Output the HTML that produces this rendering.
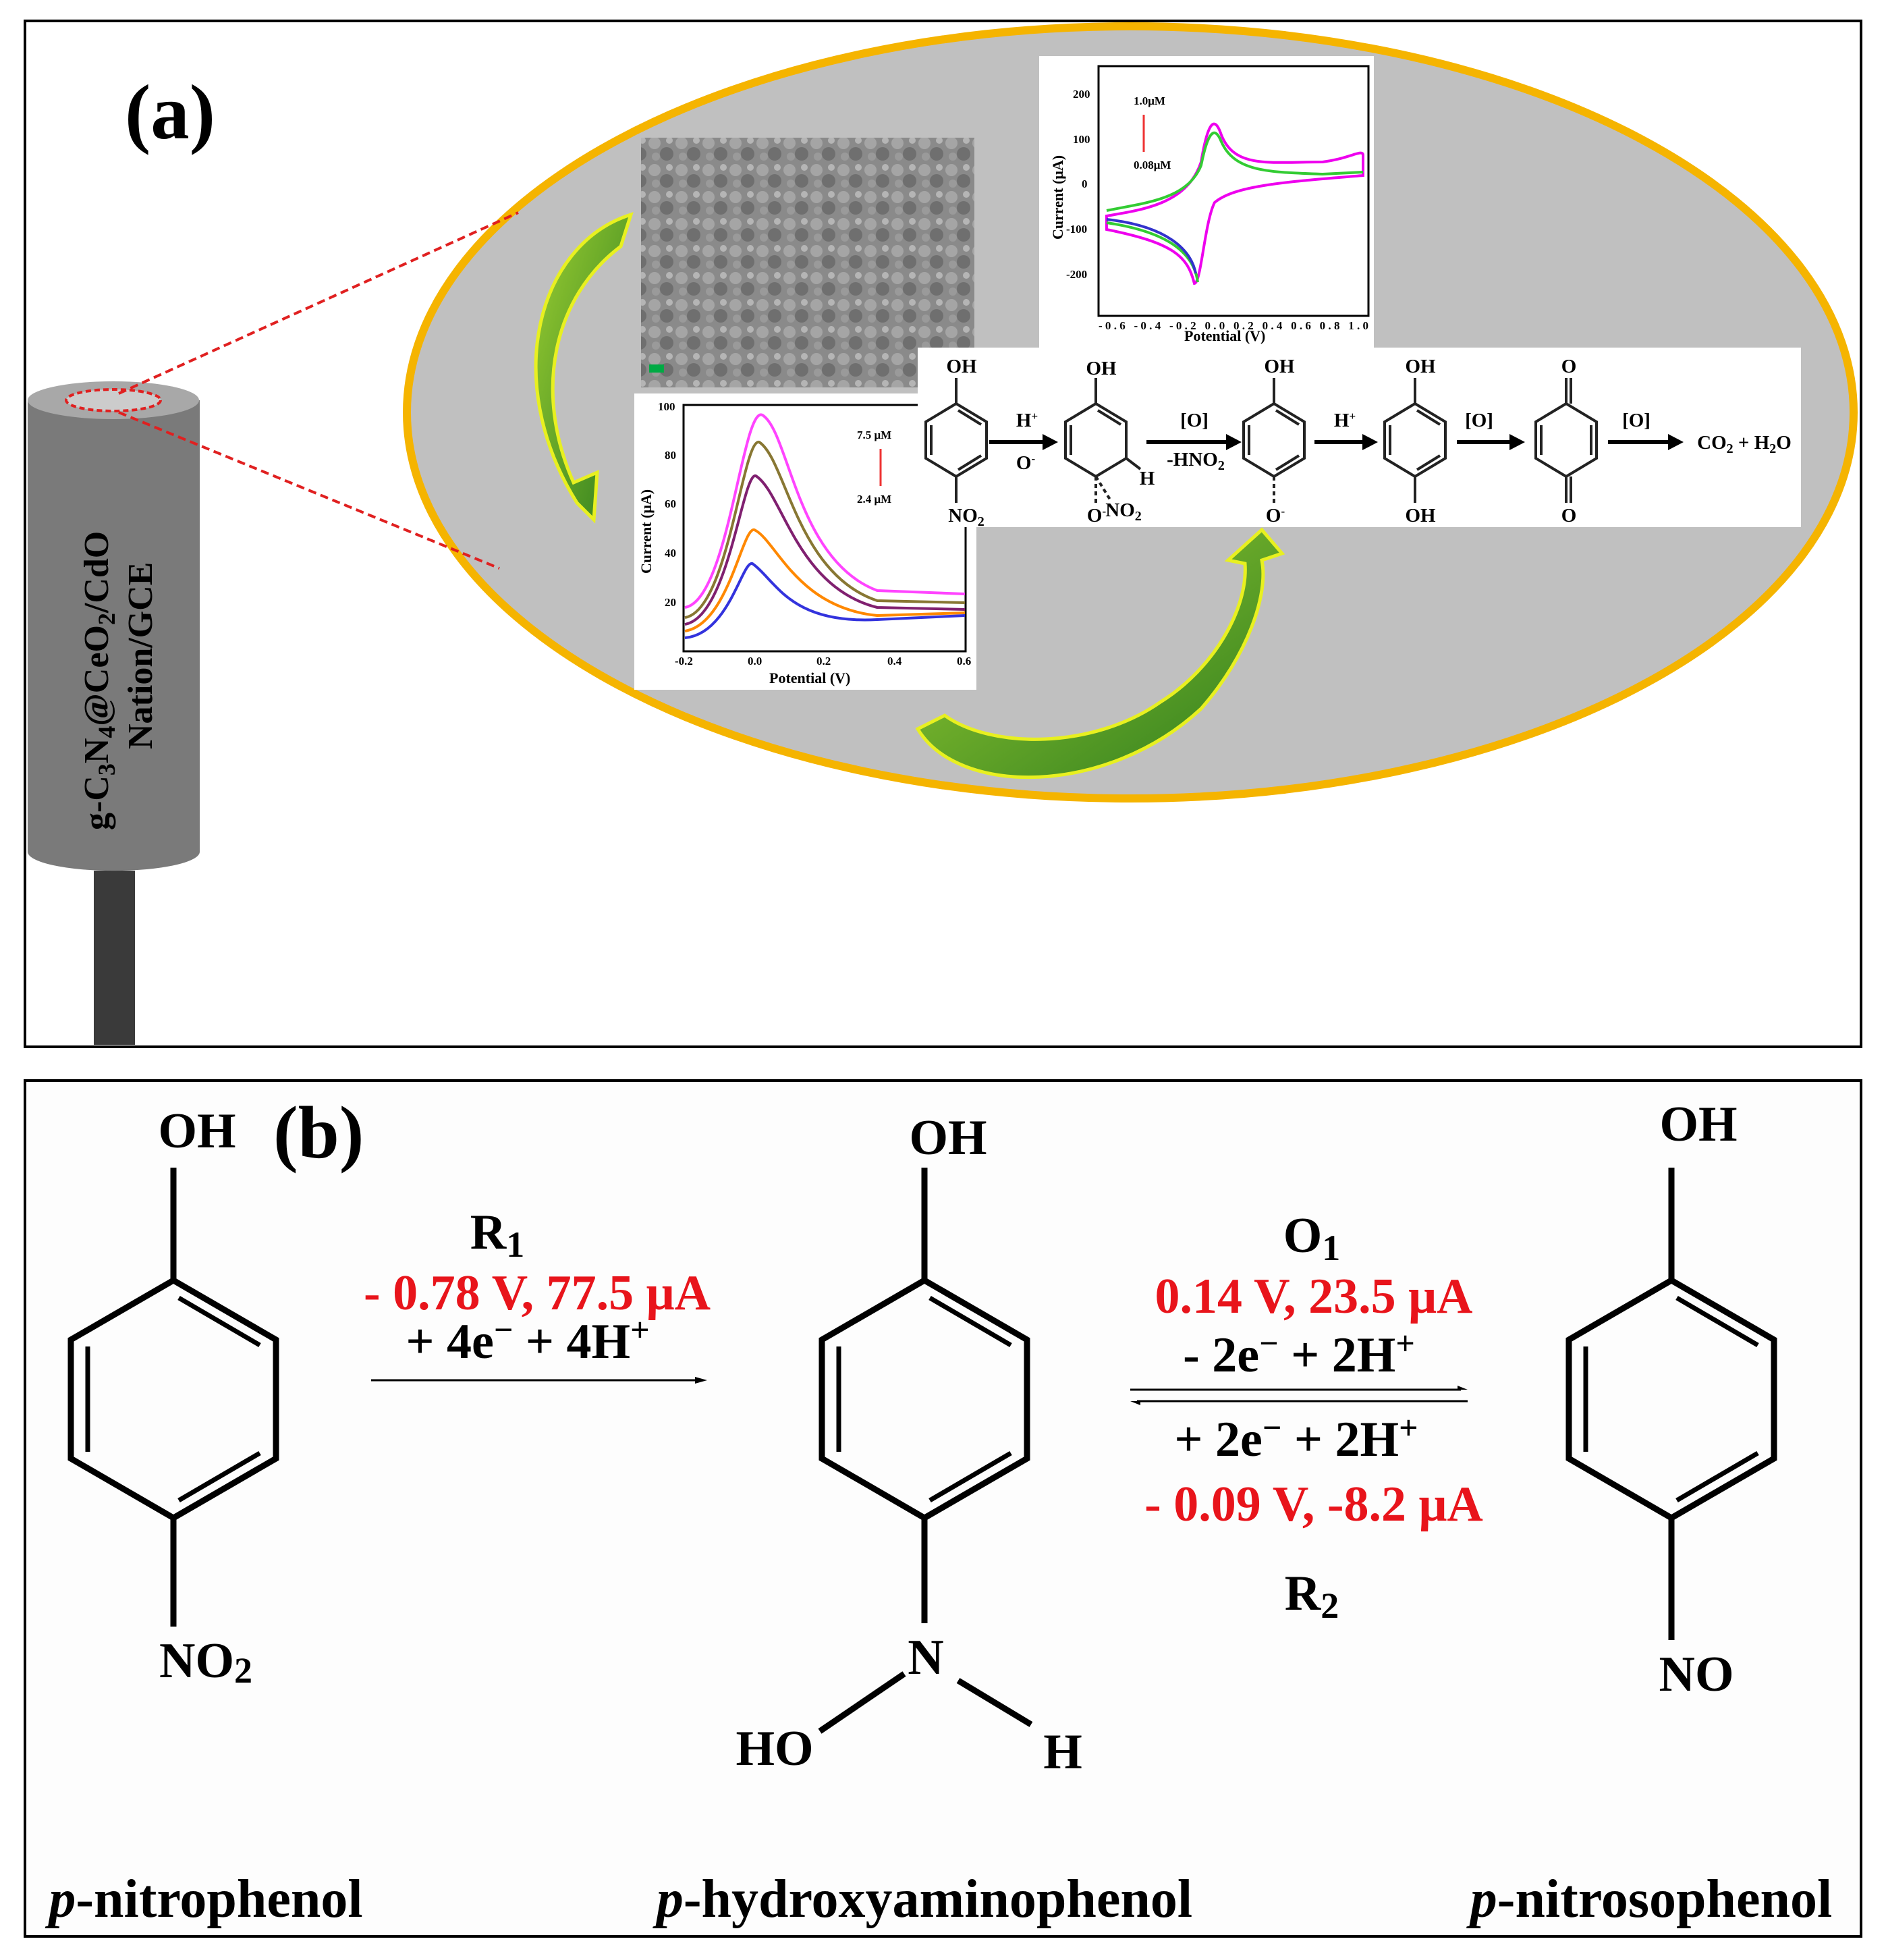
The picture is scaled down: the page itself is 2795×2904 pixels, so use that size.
<!DOCTYPE html>
<html><head><meta charset="utf-8"><style>
html,body{margin:0;padding:0;background:#fff;}
svg{display:block;}
text{font-family:"Liberation Serif",serif;font-weight:bold;}
</style></head><body>
<svg width="2795" height="2904" viewBox="0 0 2795 2904" xmlns="http://www.w3.org/2000/svg">
<defs>
<linearGradient id="gr" x1="0" y1="0" x2="1" y2="1"><stop offset="0" stop-color="#9acd32"/><stop offset="1" stop-color="#2e7d1e"/></linearGradient>
<pattern id="sem" width="40" height="40" patternUnits="userSpaceOnUse"><rect width="40" height="40" fill="#8a8a8a"/><circle cx="10" cy="12" r="9" fill="#a5a5a5"/><circle cx="28" cy="28" r="10" fill="#6f6f6f"/><circle cx="32" cy="8" r="5" fill="#b5b5b5"/><circle cx="12" cy="32" r="6" fill="#9a9a9a"/></pattern>
</defs>
<!-- panel a -->
<rect x="37" y="31" width="2721" height="1520" fill="#fff" stroke="#000" stroke-width="4"/>
<ellipse cx="1675" cy="611" rx="1072" ry="572" fill="#c0c0c0" stroke="#f5b400" stroke-width="12"/>
<text x="185" y="205" font-size="115">(a)</text>
<!-- cylinder -->
<rect x="139" y="1290" width="61" height="258" fill="#3a3a3a"/>
<path d="M41 593 L41 1262 A127 28 0 0 0 296 1262 L296 593 Z" fill="#7a7a7a"/>
<ellipse cx="168" cy="593" rx="127" ry="28" fill="#a8a8a8"/>
<ellipse cx="168" cy="593" rx="70" ry="16" fill="#ccc" stroke="#e02020" stroke-width="4" stroke-dasharray="8 5"/>
<text transform="translate(160,1230) rotate(-90)" font-size="52">g-C<tspan font-size="36" dy="10">3</tspan><tspan dy="-10">N</tspan><tspan font-size="36" dy="10">4</tspan><tspan dy="-10">@CeO</tspan><tspan font-size="36" dy="10">2</tspan><tspan dy="-10">/CdO</tspan></text>
<text transform="translate(225,1110) rotate(-90)" font-size="52">Nation/GCE</text>
<line x1="176" y1="583" x2="768" y2="315" stroke="#e02020" stroke-width="4" stroke-dasharray="12 7"/>
<line x1="176" y1="611" x2="740" y2="842" stroke="#e02020" stroke-width="4" stroke-dasharray="12 7"/>
<!-- SEM -->
<rect x="950" y="204" width="494" height="370" fill="url(#sem)"/>
<rect x="962" y="540" width="22" height="12" fill="#0a4"/>
<!-- CV plot -->
<rect x="1540" y="83" width="496" height="432" fill="#fff"/>
<rect x="1628" y="98" width="400" height="370" fill="none" stroke="#000" stroke-width="3"/>
<g font-size="17" font-weight="bold"><text x="1590" y="145">200</text><text x="1590" y="212">100</text><text x="1603" y="278">0</text><text x="1580" y="345">-100</text><text x="1580" y="412">-200</text>
<text x="1628" y="488" textLength="400">-0.6 -0.4 -0.2 0.0 0.2 0.4 0.6 0.8 1.0</text></g>
<text x="1755" y="505" font-size="22">Potential (V)</text>
<text transform="translate(1575,355) rotate(-90)" font-size="22">Current (μA)</text>
<text x="1680" y="155" font-size="17">1.0μM</text><text x="1680" y="250" font-size="17">0.08μM</text>
<line x1="1695" y1="225" x2="1695" y2="170" stroke="#e33" stroke-width="3"/>
<path d="M1640 320 C1700 310 1760 300 1780 240 C1790 180 1800 170 1810 200 C1830 250 1880 240 1960 240 C2000 235 2020 220 2020 230 L2020 260 C1900 270 1830 275 1800 300 C1785 330 1780 420 1770 420 C1760 380 1740 360 1640 340 Z" fill="none" stroke="#e0e" stroke-width="4"/>
<path d="M1640 312 C1700 300 1760 295 1780 245 C1790 195 1800 185 1810 210 C1830 255 1880 255 1960 258 L2020 255 M1640 330 C1740 345 1770 380 1775 418" fill="none" stroke="#3c3" stroke-width="4"/>
<path d="M1640 325 C1730 335 1765 370 1772 405" fill="none" stroke="#33c" stroke-width="4"/>
<!-- DPV plot -->
<rect x="940" y="583" width="507" height="439" fill="#fff"/>
<rect x="1013" y="600" width="418" height="365" fill="none" stroke="#000" stroke-width="3"/>
<g font-size="17" font-weight="bold"><text x="975" y="608">100</text><text x="985" y="680">80</text><text x="985" y="752">60</text><text x="985" y="825">40</text><text x="985" y="898">20</text>
<text x="1000" y="985">-0.2</text><text x="1108" y="985">0.0</text><text x="1210" y="985">0.2</text><text x="1315" y="985">0.4</text><text x="1418" y="985">0.6</text></g>
<text x="1140" y="1012" font-size="22">Potential (V)</text>
<text transform="translate(965,850) rotate(-90)" font-size="22">Current (μA)</text>
<text x="1270" y="650" font-size="17">7.5 μM</text><text x="1270" y="745" font-size="17">2.4 μM</text>
<line x1="1305" y1="720" x2="1305" y2="665" stroke="#e33" stroke-width="3"/>
<path d="M1015 900 C1080 890 1100 600 1130 615 C1170 640 1180 830 1300 875 L1430 880" fill="none" stroke="#f4f" stroke-width="4"/>
<path d="M1015 915 C1080 905 1100 650 1125 655 C1165 680 1180 850 1300 890 L1430 893" fill="none" stroke="#887733" stroke-width="4"/>
<path d="M1015 925 C1080 915 1100 700 1120 705 C1160 730 1180 870 1300 900 L1430 903" fill="none" stroke="#802070" stroke-width="4"/>
<path d="M1015 935 C1080 925 1100 780 1118 785 C1150 800 1180 900 1300 912 L1430 908" fill="none" stroke="#f80" stroke-width="4"/>
<path d="M1015 945 C1080 940 1100 830 1115 835 C1150 860 1170 925 1300 918 L1430 912" fill="none" stroke="#33d" stroke-width="4"/>
<!-- scheme box -->
<rect x="1360" y="515" width="1309" height="266" fill="#fff"/>
<g fill="none" stroke="#222" stroke-width="4">
<path d="M1417 598 L1462 625 L1462 679 L1417 706 L1372 679 L1372 625 Z M1417 598 V560 M1417 706 V745 M1420 608 L1454 629 M1380 630 V674 M1454 675 L1420 696"/>
<path d="M1624 598 L1669 625 L1669 679 L1624 706 L1579 679 L1579 625 Z M1624 598 V560 M1669 679 L1690 695 M1627 608 L1661 629 M1587 630 V674"/>
<path d="M1888 598 L1933 625 L1933 679 L1888 706 L1843 679 L1843 625 Z M1888 598 V560 M1891 608 L1925 629 M1851 630 V674 M1925 675 L1891 696"/>
<path d="M2097 598 L2142 625 L2142 679 L2097 706 L2052 679 L2052 625 Z M2097 598 V560 M2097 706 V745 M2100 608 L2134 629 M2060 630 V674 M2134 675 L2100 696"/>
<path d="M2321 598 L2366 625 L2366 679 L2321 706 L2276 679 L2276 625 Z M2321 598 V560 M2321 706 V745 M2284 630 V674 M2358 630 V674 M2328 598 V560 M2328 706 V745"/>
<path d="M1624 706 V750 M1624 706 L1645 740 M1888 706 V750" stroke-dasharray="6 5"/>
</g>
<g stroke="#000" stroke-width="6"><line x1="1466" y1="655" x2="1548" y2="655"/><line x1="1699" y1="655" x2="1820" y2="655"/><line x1="1948" y1="655" x2="2022" y2="655"/><line x1="2159" y1="655" x2="2240" y2="655"/><line x1="2383" y1="655" x2="2475" y2="655"/></g>
<g fill="#000"><path d="M1545 643 L1568 655 L1545 667Z"/><path d="M1817 643 L1840 655 L1817 667Z"/><path d="M2019 643 L2042 655 L2019 667Z"/><path d="M2237 643 L2260 655 L2237 667Z"/><path d="M2472 643 L2495 655 L2472 667Z"/></g>
<g font-size="29" text-anchor="middle"><text x="1425" y="552">OH</text><text x="1632" y="555">OH</text><text x="1896" y="552">OH</text><text x="2105" y="552">OH</text><text x="2325" y="552">O</text>
<text x="1432" y="773">NO<tspan font-size="20" dy="6">2</tspan></text><text x="1625" y="773">O<tspan font-size="17" dy="-10">-</tspan></text><text x="1665" y="765">NO<tspan font-size="20" dy="6">2</tspan></text><text x="1700" y="718">H</text><text x="1890" y="773">O<tspan font-size="17" dy="-10">-</tspan></text><text x="2105" y="773">OH</text><text x="2325" y="773">O</text>
<text x="1522" y="632">H<tspan font-size="17" dy="-10">+</tspan></text><text x="1520" y="695">O<tspan font-size="17" dy="-10">-</tspan></text>
<text x="1770" y="632">[O]</text><text x="1772" y="690">-HNO<tspan font-size="20" dy="6">2</tspan></text>
<text x="1993" y="632">H<tspan font-size="17" dy="-10">+</tspan></text><text x="2192" y="632">[O]</text><text x="2425" y="632">[O]</text>
<text x="2585" y="665">CO<tspan font-size="20" dy="6">2</tspan><tspan dy="-6"> + H</tspan><tspan font-size="20" dy="6">2</tspan><tspan dy="-6">O</tspan></text></g>
<!-- green curved arrows -->
<path d="M935 318 C800 360 740 560 855 745 L880 770 L885 700 L850 715 C790 580 820 440 920 365 Z" fill="url(#gr)" stroke="#e8f020" stroke-width="5"/>
<path d="M1360 1080 C1420 1180 1640 1180 1780 1050 C1850 970 1880 880 1870 830 L1900 820 L1870 785 L1820 830 L1845 835 C1850 900 1800 990 1720 1040 C1620 1110 1470 1110 1400 1060 Z" fill="url(#gr)" stroke="#e8f020" stroke-width="5"/>
<!-- panel b -->
<rect x="37" y="1601" width="2721" height="1268" fill="#fdfdfd" stroke="#000" stroke-width="4"/>
<text x="405" y="1715" font-size="110">(b)</text>
<g fill="none" stroke="#000" stroke-width="9" stroke-linejoin="miter">
<path d="M257 1897 L409 1985 L409 2161 L257 2249 L105 2161 L105 1985 Z M257 1897 V1730 M257 2249 V2410"/>
<path d="M265 1923 L385 1993 M130 1995 V2151 M385 2153 L265 2223" stroke-width="7"/>
<path d="M1370 1897 L1522 1985 L1522 2161 L1370 2249 L1218 2161 L1218 1985 Z M1370 1897 V1730 M1370 2249 V2405 M1340 2480 L1215 2565 M1420 2490 L1528 2555"/>
<path d="M1378 1923 L1498 1993 M1243 1995 V2151 M1498 2153 L1378 2223" stroke-width="7"/>
<path d="M2477 1897 L2629 1985 L2629 2161 L2477 2249 L2325 2161 L2325 1985 Z M2477 1897 V1730 M2477 2249 V2430"/>
<path d="M2485 1923 L2605 1993 M2350 1995 V2151 M2605 2153 L2485 2223" stroke-width="7"/>
</g>
<g stroke="#000" stroke-width="3"><line x1="550" y1="2045" x2="1035" y2="2045"/><line x1="1675" y1="2059" x2="2165" y2="2059"/><line x1="1685" y1="2076" x2="2175" y2="2076"/></g>
<path d="M1030 2040 L1048 2045 L1030 2050Z M2160 2053 L2175 2059 L2160 2059Z M1690 2076 L1675 2076 L1690 2082Z" fill="#000"/>
<g font-size="74" text-anchor="middle">
<text x="292" y="1700">OH</text><text x="305" y="2485">NO<tspan font-size="54" dy="8">2</tspan></text>
<text x="1405" y="1710">OH</text><text x="1372" y="2480">N</text><text x="1148" y="2615">HO</text><text x="1575" y="2620">H</text>
<text x="2517" y="1690">OH</text><text x="2514" y="2505">NO</text>
<text x="737" y="1850">R<tspan font-size="54" dy="12">1</tspan></text>
<text x="796" y="1940" fill="#e8141b">- 0.78 V, 77.5 μA</text>
<text x="782" y="2012">+ 4e<tspan font-size="50" dy="-25">−</tspan><tspan dy="25"> + 4H</tspan><tspan font-size="50" dy="-25">+</tspan></text>
<text x="1944" y="1855">O<tspan font-size="54" dy="12">1</tspan></text>
<text x="1947" y="1945" fill="#e8141b">0.14 V, 23.5 μA</text>
<text x="1925" y="2032">- 2e<tspan font-size="50" dy="-25">−</tspan><tspan dy="25"> + 2H</tspan><tspan font-size="50" dy="-25">+</tspan></text>
<text x="1921" y="2157">+ 2e<tspan font-size="50" dy="-25">−</tspan><tspan dy="25"> + 2H</tspan><tspan font-size="50" dy="-25">+</tspan></text>
<text x="1947" y="2253" fill="#e8141b">- 0.09 V, -8.2 μA</text>
<text x="1944" y="2385">R<tspan font-size="54" dy="12">2</tspan></text>
</g>
<g font-size="80" text-anchor="middle">
<text x="305" y="2840"><tspan font-style="italic">p</tspan>-nitrophenol</text>
<text x="1370" y="2840"><tspan font-style="italic">p</tspan>-hydroxyaminophenol</text>
<text x="2447" y="2840"><tspan font-style="italic">p</tspan>-nitrosophenol</text>
</g>
</svg>
</body></html>
